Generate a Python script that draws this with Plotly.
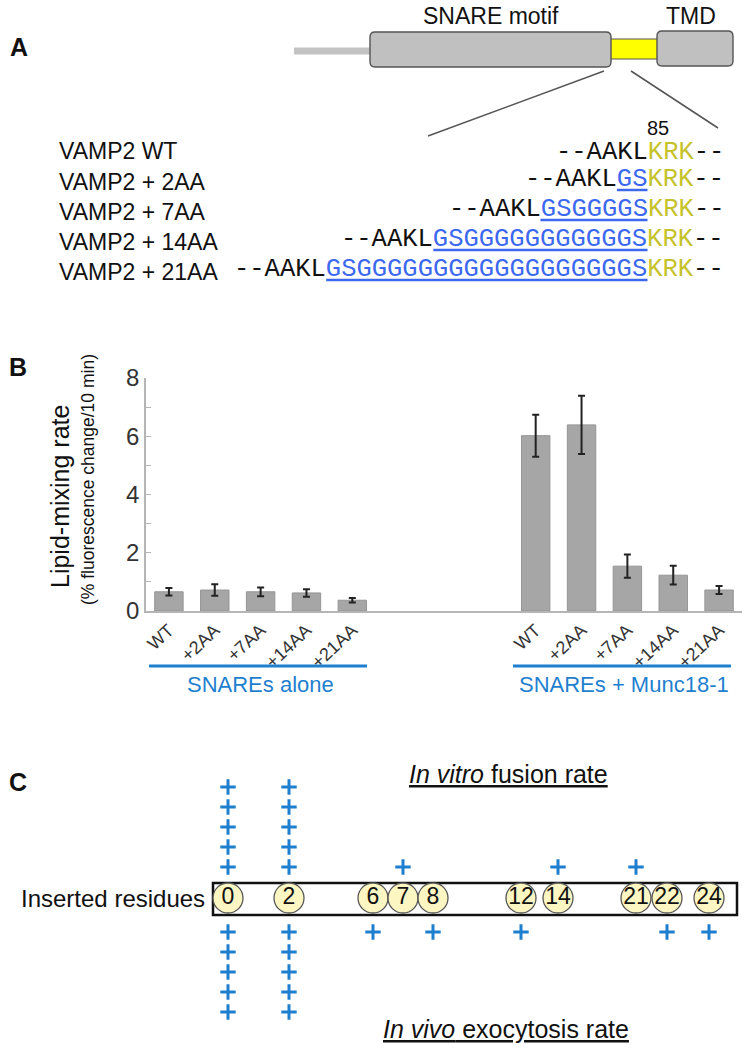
import plotly.graph_objects as go

# ---------------- data ----------------
categories = ["WT", "+2AA", "+7AA", "+14AA", "+21AA"]
alone = [0.66, 0.72, 0.66, 0.62, 0.37]
alone_err = [0.13, 0.20, 0.15, 0.13, 0.08]
munc = [6.02, 6.39, 1.54, 1.23, 0.72]
munc_err = [0.72, 1.00, 0.40, 0.32, 0.14]
group_labels = ["SNAREs alone", "SNAREs + Munc18-1"]

seq_labels = ["VAMP2 WT", "VAMP2 + 2AA", "VAMP2 + 7AA", "VAMP2 + 14AA", "VAMP2 + 21AA"]
seq_inserts = ["", "GS", "GSGGGGS", "GSGGGGGGGGGGGS", "GSGGGGGGGGGGGGGGGGGGS"]

inserted = [0, 2, 6, 7, 8, 12, 14, 21, 22, 24]
in_vitro = [5, 5, 0, 1, 0, 0, 1, 1, 0, 0]
in_vivo = [5, 5, 1, 0, 1, 1, 0, 0, 1, 1]

# ---------------- styling / layout helpers ----------------
W, H = 752, 1050
SANS = "Liberation Sans, Arial, sans-serif"
MONO = "Liberation Mono, Courier New, monospace"
BLUE_SEQ = "#3c68f0"
OLIVE = "#c6c22a"
BLUE = "#1f7fcf"
GREY_AX = "#b5b5b5"

fig = go.Figure()

# ---------- Panel B bars ----------
x_alone = list(range(len(categories)))
x_munc = [i + len(categories) + 3 for i in range(len(categories))]
bar_style = dict(marker=dict(color="#a6a6a6", line=dict(color="#959595", width=1)), width=0.62)
fig.add_trace(go.Bar(x=x_alone, y=alone,
                     error_y=dict(type="data", array=alone_err, color="#222", thickness=2, width=3.5),
                     xaxis="x", yaxis="y", showlegend=False, **bar_style))
fig.add_trace(go.Bar(x=x_munc, y=munc,
                     error_y=dict(type="data", array=munc_err, color="#222", thickness=2, width=3.5),
                     xaxis="x", yaxis="y", showlegend=False, **bar_style))

# ---------- Panel C (schematic, pixel-space axis x4/y4) ----------
c_pos = [228, 289, 373, 403, 433, 521, 558, 636, 667, 709]   # schematic column positions
c_mid, c_top0, c_bot0, c_step = 898, 867, 932, 20

px_up, py_up, px_dn, py_dn = [], [], [], []
for pos, nv, nn in zip(c_pos, in_vitro, in_vivo):
    for k in range(nv):
        px_up.append(pos); py_up.append(c_top0 - k * c_step)
    for k in range(nn):
        px_dn.append(pos); py_dn.append(c_bot0 + k * c_step)

plus_marker = dict(symbol="cross-thin", size=11, line=dict(width=3, color=BLUE), color=BLUE)
fig.add_trace(go.Scatter(x=px_up, y=py_up, mode="markers", marker=plus_marker,
                         xaxis="x4", yaxis="y4", showlegend=False, cliponaxis=False))
fig.add_trace(go.Scatter(x=px_dn, y=py_dn, mode="markers", marker=plus_marker,
                         xaxis="x4", yaxis="y4", showlegend=False, cliponaxis=False))
fig.add_trace(go.Scatter(x=c_pos, y=[c_mid] * len(c_pos), mode="markers+text",
                         text=[str(r) for r in inserted], textposition="middle center",
                         textfont=dict(family=SANS, size=23, color="#111"),
                         marker=dict(size=30, color="#fbf6c2", line=dict(color="#555", width=1.3)),
                         xaxis="x4", yaxis="y4", showlegend=False, cliponaxis=False))

shapes = []
annotations = []

def ann(text, x, y, size, xanchor="center", color="#111", family=SANS, **kw):
    annotations.append(dict(text=text, x=x, y=y, xref="x4", yref="y4", showarrow=False,
                            xanchor=xanchor, yanchor="middle",
                            font=dict(family=family, size=size, color=color), **kw))

def rrect(x0, y0, x1, y1, r):
    return (f"M{x0+r},{y0} L{x1-r},{y0} Q{x1},{y0} {x1},{y0+r} L{x1},{y1-r} "
            f"Q{x1},{y1} {x1-r},{y1} L{x0+r},{y1} Q{x0},{y1} {x0},{y1-r} "
            f"L{x0},{y0+r} Q{x0},{y0} {x0+r},{y0} Z")

# ---------- Panel A: domain diagram ----------
shapes.append(dict(type="line", xref="x4", yref="y4", x0=294, x1=371, y0=51, y1=51,
                   line=dict(color="#c3c3c3", width=7)))
shapes.append(dict(type="rect", xref="x4", yref="y4", x0=609, x1=659, y0=39, y1=59,
                   fillcolor="#ffff00", line=dict(color="#555", width=1.2)))
shapes.append(dict(type="path", xref="x4", yref="y4", path=rrect(370, 32, 611, 67, 5),
                   fillcolor="#c0c0c0", line=dict(color="#555", width=1.4)))
shapes.append(dict(type="path", xref="x4", yref="y4", path=rrect(657, 31, 733, 66, 5),
                   fillcolor="#c0c0c0", line=dict(color="#555", width=1.4)))
shapes.append(dict(type="line", xref="x4", yref="y4", x0=604, y0=71, x1=428, y1=136,
                   line=dict(color="#555", width=1.5)))
shapes.append(dict(type="line", xref="x4", yref="y4", x0=631, y0=71, x1=718, y1=128,
                   line=dict(color="#555", width=1.5)))
ann("SNARE motif", 491, 16, 23)
ann("TMD", 691, 16, 23)
ann("<b>A</b>", 19, 47, 25)

# sequences
seq_right = 724
cw = 15.3
mono_size = 25.5
label_y = [151, 182, 212, 242, 272]
seq_y = [152, 179, 209, 239, 269]
for lab, ins, ly, sy in zip(seq_labels, seq_inserts, label_y, seq_y):
    ann(lab, 57, ly, 23, xanchor="left")
    txt = "--AAKL"
    if ins:
        txt += f"<span style='color:{BLUE_SEQ}'>{ins}</span>"
    txt += f"<span style='color:{OLIVE}'>KRK</span>--"
    ann(txt, seq_right + 2, sy, mono_size, xanchor="right", family=MONO)
    if ins:
        n = len(ins)
        shapes.append(dict(type="line", xref="x4", yref="y4",
                           x0=seq_right - (n + 5) * cw, x1=seq_right - 5 * cw,
                           y0=sy + 11, y1=sy + 11, line=dict(color=BLUE_SEQ, width=2.5)))
ann("85", 658, 128, 20)

# ---------- Panel B annotations ----------
ann("<b>B</b>", 18, 367, 25)
ann("Lipid-mixing rate", 60, 497, 25, textangle=-90)
ann("(% fluorescence change/10 min)", 88, 480, 17.5, textangle=-90)
g_spans = [(149, 367), (513, 731)]
for (a, b), lab in zip(g_spans, group_labels):
    shapes.append(dict(type="line", xref="x4", yref="y4", x0=a, x1=b, y0=666, y1=666,
                       line=dict(color=BLUE, width=3)))
    ann(lab, (a + b) / 2 + 2, 684, 22, color=BLUE)

# ---------- Panel C annotations ----------
ann("<b>C</b>", 18, 782, 25)
shapes.append(dict(type="rect", xref="x4", yref="y4", x0=213, x1=737, y0=883, y1=915,
                   line=dict(color="#111", width=2.5), layer="below"))
ann("Inserted residues", 207, 898, 24, xanchor="right")
ann("<u><i>In vitro</i> fusion rate</u>", 508, 774, 25)
ann("<u><i>In vivo</i> exocytosis rate</u>", 506, 1029, 25)

fig.update_layout(
    width=W, height=H,
    margin=dict(l=0, r=0, t=0, b=0, pad=0, autoexpand=False),
    paper_bgcolor="white", plot_bgcolor="rgba(0,0,0,0)",
    bargap=0.38,
    xaxis=dict(domain=[146 / W, 742 / W], anchor="y", range=[-0.5, 12.5], automargin=False,
               tickvals=x_alone + x_munc, ticktext=categories + categories,
               tickangle=-43, tickfont=dict(family=SANS, size=18, color="#333"),
               showline=True, linecolor=GREY_AX, linewidth=1.5, ticks="",
               showgrid=False, zeroline=False, fixedrange=True),
    yaxis=dict(domain=[1 - 611 / H, 1 - 378 / H], anchor="x", range=[0, 8], automargin=False,
               tickvals=[0, 2, 4, 6, 8], tickfont=dict(family=SANS, size=24, color="#333"),
               ticks="inside", ticklen=5, tickcolor=GREY_AX, tickwidth=1.2,
               minor=dict(ticks="inside", dtick=1, ticklen=5, tickcolor=GREY_AX, tickwidth=1.2),
               showline=True, linecolor=GREY_AX, linewidth=1.5,
               showgrid=False, zeroline=False, fixedrange=True),
    xaxis4=dict(domain=[0, 1], anchor="y4", range=[0, W], visible=False, fixedrange=True,
                automargin=False),
    yaxis4=dict(domain=[0, 1], anchor="x4", range=[H, 0], visible=False, fixedrange=True,
                automargin=False),
    shapes=shapes,
    annotations=annotations,
)

fig.write_html("out.html", config={"displayModeBar": False},
               post_script="document.body.style.margin='0px';document.body.style.overflow='hidden';")
